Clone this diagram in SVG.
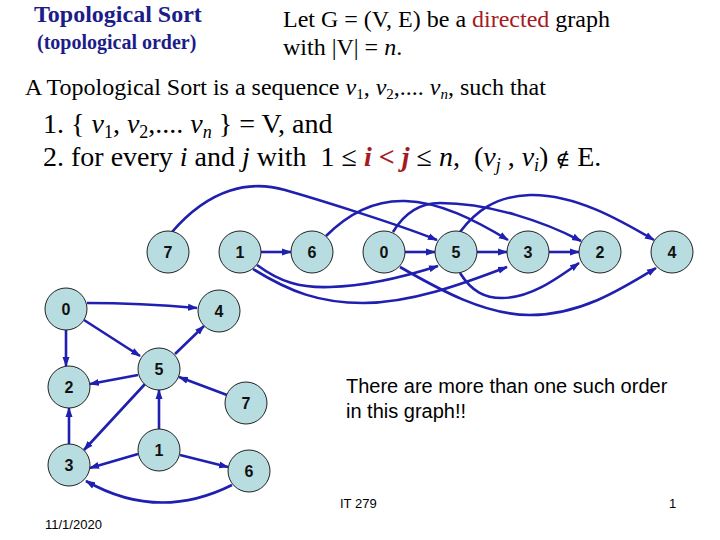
<svg xmlns="http://www.w3.org/2000/svg" width="720" height="540" viewBox="0 0 720 540">
<style>
.serif{font-family:"Liberation Serif","Times New Roman",serif;fill:#000}
.sans{font-family:"Liberation Sans",Arial,sans-serif;fill:#000}
.title{font-weight:bold;fill:#1C1C8A}
.red{fill:#A51A1E}
.edge{fill:none;stroke:#1F1FB0;stroke-width:2.6;marker-end:url(#ah)}
.node circle{fill:#B8DDE0;stroke:#222;stroke-width:1}
.node text{font-family:"Liberation Sans",Arial,sans-serif;font-weight:bold;font-size:16px;text-anchor:middle;fill:#111}
</style>
<defs>
<marker id="ah" markerUnits="userSpaceOnUse" markerWidth="10" markerHeight="8" refX="9" refY="4" orient="auto">
<path d="M0,0.5 L10,4 L0,7.5 Z" fill="#1F1FB0"/>
</marker>
</defs>
<rect width="720" height="540" fill="#fff"/>

<text class="serif title" x="34" y="22" font-size="24">Topological Sort</text>
<text class="serif title" x="37" y="49" font-size="20">(topological order)</text>
<text class="serif" x="283" y="27" font-size="24">Let G = (V, E) be a <tspan class="red">directed</tspan> graph</text>
<text class="serif" x="283" y="55" font-size="24">with |V| = <tspan font-style="italic">n</tspan>.</text>
<text class="serif" x="25" y="95" font-size="24">A Topological Sort is a sequence <tspan font-style="italic">v</tspan><tspan font-size="15" dy="4">1</tspan><tspan dy="-4">, </tspan><tspan font-style="italic">v</tspan><tspan font-size="15" dy="4">2</tspan><tspan dy="-4">,.... </tspan><tspan font-style="italic">v</tspan><tspan font-size="15" font-style="italic" dy="4">n</tspan><tspan dy="-4">, such that</tspan></text>
<text class="serif" x="43" y="133" font-size="28" xml:space="preserve">1. { <tspan font-style="italic">v</tspan><tspan font-size="18" dy="5">1</tspan><tspan dy="-5">, </tspan><tspan font-style="italic">v</tspan><tspan font-size="18" dy="5">2</tspan><tspan dy="-5">,.... </tspan><tspan font-style="italic">v</tspan><tspan font-size="18" font-style="italic" dy="5">n</tspan><tspan dy="-5"> } = V, and</tspan></text>
<text class="serif" x="43" y="166" font-size="28" xml:space="preserve">2. for every <tspan font-style="italic">i</tspan> and <tspan font-style="italic">j</tspan> with  1 ≤ <tspan class="red" font-weight="bold" font-style="italic">i &lt; j</tspan> ≤ <tspan font-style="italic">n</tspan>,  (<tspan font-style="italic">v</tspan><tspan font-size="18" font-style="italic" dy="5">j</tspan><tspan dy="-5"> , </tspan><tspan font-style="italic">v</tspan><tspan font-size="18" font-style="italic" dy="5">i</tspan><tspan dy="-5">) </tspan><tspan font-family="'DejaVu Serif',serif" font-size="20">∉</tspan> E.</text>

<g id="connectors">
<path class="edge" d="M261,252 L291,252"/>
<path class="edge" d="M405,252 L435,252"/>
<path class="edge" d="M477,252 L507,252"/>
<path class="edge" d="M549,252 L579,252"/>
<path class="edge" d="M172,232 C210,188 250,180 285,190 C320,200 400,225 437,240"/>
<path class="edge" d="M326,236 C350,212 375,200 405,201 C440,202 475,220 508,240"/>
<path class="edge" d="M393,232 C405,212 420,203 440,203 C490,203 545,222 581,241"/>
<path class="edge" d="M460,232 C475,212 495,196 530,195 C575,194 620,220 654,240"/>
<path class="edge" d="M257,265 C280,282 300,288 330,287 C370,286 410,275 438,266"/>
<path class="edge" d="M253,269 C290,292 320,303 363,303 C410,303 460,285 507,267"/>
<path class="edge" d="M400,267 C440,290 485,315 530,315 C580,315 620,290 656,268"/>
<path class="edge" d="M460,273 C472,292 485,298 502,298 C530,298 555,280 579,263"/>
<path class="edge" d="M87,303 Q140,303 197,308"/>
<path class="edge" d="M84,320 L140,356"/>
<path class="edge" d="M66,330 L66,366"/>
<path class="edge" d="M138,375 L90,384"/>
<path class="edge" d="M175,354 L204,326"/>
<path class="edge" d="M227,395 L179,377"/>
<path class="edge" d="M145,384 L84,450"/>
<path class="edge" d="M159,429 L159,390"/>
<path class="edge" d="M69,444 L69,408"/>
<path class="edge" d="M138,454 L90,468"/>
<path class="edge" d="M180,455 L228,467"/>
<path class="edge" d="M232,485 Q158,522 86,481"/>
</g>

<g id="t7" class="node"><circle cx="168" cy="252" r="21"/><text x="168" y="258">7</text></g>
<g id="t1" class="node"><circle cx="240" cy="252" r="21"/><text x="240" y="258">1</text></g>
<g id="t6" class="node"><circle cx="312" cy="252" r="21"/><text x="312" y="258">6</text></g>
<g id="t0" class="node"><circle cx="384" cy="252" r="21"/><text x="384" y="258">0</text></g>
<g id="t5" class="node"><circle cx="456" cy="252" r="21"/><text x="456" y="258">5</text></g>
<g id="t3" class="node"><circle cx="528" cy="252" r="21"/><text x="528" y="258">3</text></g>
<g id="t2" class="node"><circle cx="600" cy="252" r="21"/><text x="600" y="258">2</text></g>
<g id="t4" class="node"><circle cx="672" cy="252" r="21"/><text x="672" y="258">4</text></g>

<g id="g0" class="node"><circle cx="66" cy="309" r="21"/><text x="66" y="315">0</text></g>
<g id="g4" class="node"><circle cx="219" cy="311" r="21"/><text x="219" y="317">4</text></g>
<g id="g5" class="node"><circle cx="159" cy="369" r="21"/><text x="159" y="375">5</text></g>
<g id="g2" class="node"><circle cx="69" cy="387" r="21"/><text x="69" y="393">2</text></g>
<g id="g7" class="node"><circle cx="246" cy="403" r="21"/><text x="246" y="409">7</text></g>
<g id="g1" class="node"><circle cx="159" cy="450" r="21"/><text x="159" y="456">1</text></g>
<g id="g3" class="node"><circle cx="69" cy="465" r="21"/><text x="69" y="471">3</text></g>
<g id="g6" class="node"><circle cx="249" cy="471" r="21"/><text x="249" y="477">6</text></g>

<text class="sans" x="346" y="393" font-size="20">There are more than one such order</text>
<text class="sans" x="346" y="418" font-size="20">in this graph!!</text>
<text class="sans" x="340" y="508" font-size="13">IT 279</text>
<text class="sans" x="669" y="508" font-size="13">1</text>
<text class="sans" x="45" y="529" font-size="13">11/1/2020</text>
</svg>
